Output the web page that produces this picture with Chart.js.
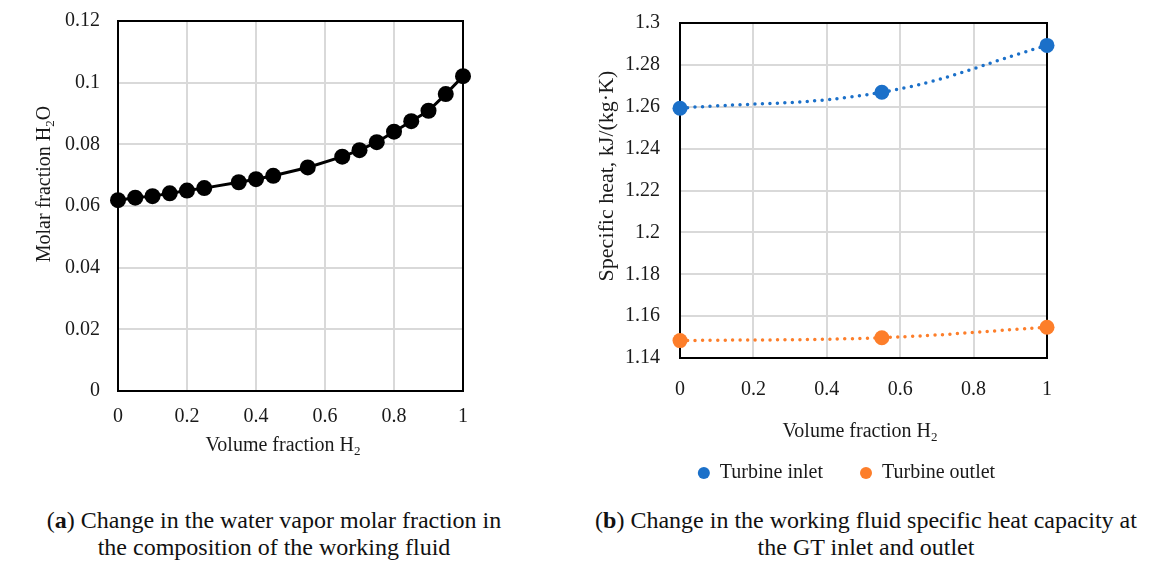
<!DOCTYPE html>
<html>
<head>
<meta charset="utf-8">
<script src="https://cdn.jsdelivr.net/npm/chart.js@4.4.0/dist/chart.umd.min.js"></script>
<style>
  html, body { margin: 0; padding: 0; background: #fff; }
  body { width: 1172px; height: 565px; position: relative; overflow: hidden; font-family: "Liberation Serif", serif; }
  #wrapA { position: absolute; left: 0; top: 0; width: 480px; height: 470px; }
  #wrapB { position: absolute; left: 580px; top: 0; width: 540px; height: 500px; }
  .cap { position: absolute; top: 507px; text-align: center; font-size: 24px; line-height: 27px; color: #111; }
  #capA { left: 0; width: 548px; }
  #capB { left: 560px; width: 612px; }
</style>
</head>
<body>
<div id="wrapA"><canvas id="chartA" width="480" height="470"></canvas></div>
<div id="wrapB"><canvas id="chartB" width="540" height="500"></canvas></div>
<div class="cap" id="capA">(<b>a</b>) Change in the water vapor molar fraction in<br>the composition of the working fluid</div>
<div class="cap" id="capB">(<b>b</b>) Change in the working fluid specific heat capacity at<br>the GT inlet and outlet</div>
<script>
// ---- data ----
const h2Fraction = [0, 0.05, 0.1, 0.15, 0.2, 0.25, 0.35, 0.4, 0.45, 0.55, 0.65, 0.7, 0.75, 0.8, 0.85, 0.9, 0.95, 1];
const waterMolar = [0.0619, 0.0627, 0.0632, 0.0641, 0.0650, 0.0658, 0.0677, 0.0687, 0.0698, 0.0725, 0.0760, 0.0781, 0.0807, 0.0841, 0.0875, 0.0909, 0.0963, 0.1021];

const cpX = [0, 0.55, 1];
const cpInlet = [1.2593, 1.2669, 1.2893];
const cpOutlet = [1.1483, 1.1497, 1.1547];
const seriesNames = ['Turbine inlet', 'Turbine outlet'];

const xTickValues = [0, 0.2, 0.4, 0.6, 0.8, 1];
const xTickLabels = ['0', '0.2', '0.4', '0.6', '0.8', '1'];
const leftYTickValues = [0, 0.02, 0.04, 0.06, 0.08, 0.1, 0.12];
const leftYTickLabels = ['0', '0.02', '0.04', '0.06', '0.08', '0.1', '0.12'];
const rightYTickValues = [1.14, 1.16, 1.18, 1.2, 1.22, 1.24, 1.26, 1.28, 1.3];
const rightYTickLabels = ['1.14', '1.16', '1.18', '1.2', '1.22', '1.24', '1.26', '1.28', '1.3'];

const FONT = '"Liberation Serif", "Times New Roman", serif';
const TXT = '#1a1a1a';
const GRID = '#d9d9d9';

// frame around plot area
const framePlugin = {
  id: 'frame',
  beforeDatasetsDraw(chart, args, opts) {
    const a = chart.chartArea, ctx = chart.ctx;
    ctx.save();
    ctx.strokeStyle = '#000';
    ctx.lineWidth = opts.width || 2;
    ctx.strokeRect(a.left, a.top, a.right - a.left, a.bottom - a.top);
    ctx.restore();
  }
};

// axis titles with real subscripts
function drawRich(ctx, parts, cx, cy, size, rot) {
  ctx.save();
  ctx.translate(cx, cy);
  ctx.rotate(rot);
  ctx.fillStyle = TXT;
  ctx.textBaseline = 'middle';
  ctx.textAlign = 'left';
  let total = 0;
  const widths = parts.map(p => {
    ctx.font = (p.sub ? Math.round(size * 0.65) : size) + 'px ' + FONT;
    const w = ctx.measureText(p.t).width;
    total += w;
    return w;
  });
  let x = -total / 2;
  parts.forEach((p, i) => {
    ctx.font = (p.sub ? Math.round(size * 0.65) : size) + 'px ' + FONT;
    ctx.fillText(p.t, x, p.sub ? size * 0.3 : 0);
    x += widths[i];
  });
  ctx.restore();
}
const axisTitlePlugin = {
  id: 'axisTitles',
  afterDraw(chart, args, opts) {
    (opts.items || []).forEach(it => drawRich(chart.ctx, it.parts, it.x, it.y, it.size, it.rot || 0));
  }
};

function fixedTicks(values) {
  return function(scale) { scale.ticks = values.map(v => ({ value: v })); };
}
function fixW(w) {
  return function(s) { s.width = w; s.paddingTop = 0; s.paddingBottom = 0; };
}
function fixH(h) {
  return function(s) { s.height = h; s.paddingLeft = 0; s.paddingRight = 0; };
}

// ---- chart (a) ----
new Chart(document.getElementById('chartA'), {
  type: 'line',
  data: {
    datasets: [{
      label: 'Molar fraction H2O',
      data: h2Fraction.map((x, i) => ({ x: x, y: waterMolar[i] })),
      borderColor: '#000',
      backgroundColor: '#000',
      borderWidth: 3,
      pointRadius: 8,
      pointBorderWidth: 0,
      pointBackgroundColor: '#000',
      tension: 0,
      clip: false
    }]
  },
  plugins: [framePlugin, axisTitlePlugin],
  options: {
    responsive: false,
    animation: false,
    layout: { padding: { left: 0, top: 21, right: 17, bottom: 0 } },
    plugins: {
      legend: { display: false },
      tooltip: { enabled: false },
      frame: { width: 2 },
      axisTitles: {
        items: [
          { parts: [{ t: 'Volume fraction H' }, { t: '2', sub: true }], x: 283, y: 446, size: 20 },
          { parts: [{ t: 'Molar fraction H' }, { t: '2', sub: true }, { t: 'O' }], x: 45, y: 184, size: 20, rot: -Math.PI / 2 }
        ]
      }
    },
    scales: {
      x: {
        type: 'linear', min: 0, max: 1,
        afterBuildTicks: fixedTicks(xTickValues),
        afterFit: fixH(79),
        grid: { color: GRID, lineWidth: 2, drawTicks: false },
        border: { display: false },
        ticks: { padding: 14, color: TXT, font: { family: FONT, size: 20 }, maxRotation: 0,
          callback: (v, i) => xTickLabels[i] }
      },
      y: {
        type: 'linear', min: 0, max: 0.12,
        afterBuildTicks: fixedTicks(leftYTickValues),
        afterFit: fixW(118),
        grid: { color: GRID, lineWidth: 2, drawTicks: false },
        border: { display: false },
        ticks: { padding: 18, color: TXT, font: { family: FONT, size: 20 },
          callback: (v, i) => leftYTickLabels[i] }
      }
    }
  }
});

// ---- chart (b) ----
const BLUE = '#1b70c9';
const ORANGE = '#fd7e2a';
function cpSet(name, vals, color) {
  return {
    label: name,
    data: cpX.map((x, i) => ({ x: x, y: vals[i] })),
    borderColor: color,
    backgroundColor: color,
    borderWidth: 3.5,
    borderDash: [0, 7.5],
    borderCapStyle: 'round',
    tension: 0.4,
    pointRadius: 7.5,
    pointBorderWidth: 0,
    pointBackgroundColor: color,
    clip: false
  };
}
new Chart(document.getElementById('chartB'), {
  type: 'line',
  data: {
    datasets: [cpSet(seriesNames[0], cpInlet, BLUE), cpSet(seriesNames[1], cpOutlet, ORANGE)]
  },
  plugins: [framePlugin, axisTitlePlugin],
  options: {
    responsive: false,
    animation: false,
    layout: { padding: { left: 0, top: 23, right: 7, bottom: 7 } },
    plugins: {
      tooltip: { enabled: false },
      frame: { width: 2 },
      legend: {
        display: true,
        position: 'bottom',
        align: 'center',
        labels: {
          usePointStyle: true,
          pointStyle: 'circle',
          boxWidth: 12,
          boxHeight: 8.5,
          padding: 37,
          color: TXT,
          font: { family: FONT, size: 20 }
        }
      },
      axisTitles: {
        items: [
          { parts: [{ t: 'Volume fraction H' }, { t: '2', sub: true }], x: 280, y: 432, size: 20 },
          { parts: [{ t: 'Specific heat, kJ/(kg·K)' }], x: 27, y: 176, size: 22, rot: -Math.PI / 2 }
        ]
      }
    },
    scales: {
      x: {
        type: 'linear', min: 0, max: 1,
        afterBuildTicks: fixedTicks(xTickValues),
        afterFit: fixH(68),
        grid: { color: GRID, lineWidth: 2, drawTicks: false },
        border: { display: false },
        ticks: { padding: 20, color: TXT, font: { family: FONT, size: 20 }, maxRotation: 0,
          callback: (v, i) => xTickLabels[i] }
      },
      y: {
        type: 'linear', position: 'left', min: 1.14, max: 1.3,
        afterBuildTicks: fixedTicks(rightYTickValues),
        afterFit: fixW(100),
        grid: { color: GRID, lineWidth: 2, drawTicks: false },
        border: { display: false },
        ticks: { padding: 20, color: TXT, font: { family: FONT, size: 20 },
          callback: (v, i) => rightYTickLabels[i] }
      },
      yPad: {
        type: 'linear', position: 'right', min: 0, max: 1,
        afterFit: fixW(66),
        grid: { display: false, drawTicks: false },
        border: { display: false },
        ticks: { display: false }
      }
    }
  }
});
</script>
</body>
</html>
